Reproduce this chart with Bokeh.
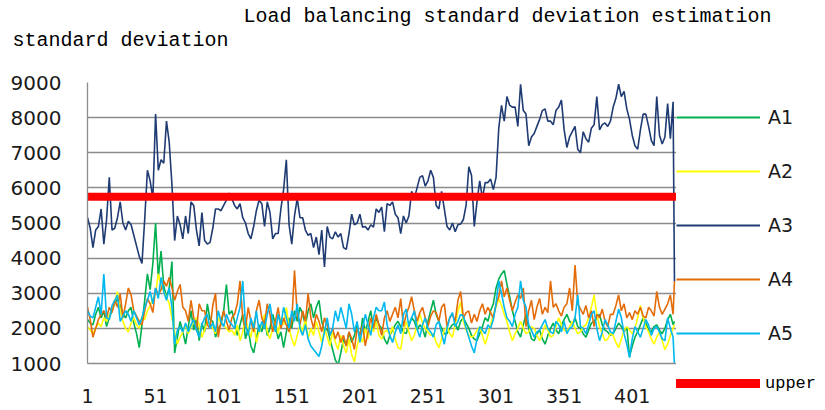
from bokeh.plotting import figure
from bokeh.models import (Label, Legend, LegendItem, FixedTicker, Range1d, Plot,
                          ColumnDataSource, Line)
from bokeh.layouts import column, row
from bokeh.embed import file_html
from bokeh.resources import INLINE

# x positions (sample index, every second point) and last point
IDX = list(range(1, 432, 2)) + [432]

A1 = [2250, 2150, 2100, 2400, 2600, 2300, 2500, 2050, 2300, 2500,
      2700, 2850, 2650, 2400, 2300, 2500, 2600, 2150, 1850, 1450,
      2100, 2800, 3550, 3100, 3850, 5000, 3450, 4200, 3200, 2900,
      3150, 3900, 1300, 1750, 2200, 1900, 1550, 2050, 2500, 1950,
      2300, 1650, 2150, 1900, 2700, 2250, 2200, 1750, 2000, 2100,
      2500, 3250, 2400, 2500, 2200, 1800, 2100, 2400, 1700, 2000,
      1500, 1300, 1700, 2100, 1900, 2300, 1800, 2000, 2400, 2100,
      1700, 1900, 1450, 1900, 2300, 2000, 2500, 2200, 2600, 2400,
      2100, 2500, 2700, 2300, 2600, 2800, 2200, 1900, 2000, 1700,
      1400, 1100, 950, 1300, 1700, 1500, 1900, 1600, 1800, 2100,
      1700, 2300, 1900, 2200, 2500, 2000, 2300, 2100, 2000, 1700,
      1550, 1800, 1950, 2100, 2200, 2050, 1900, 1850, 2100, 2300,
      2200, 1950, 2100, 2000, 1750, 2200, 2500, 2800, 2400, 2200,
      2000, 1850, 1850, 2000, 2100, 2150, 1950, 2200, 2300, 2150,
      2000, 1800, 1700, 1650, 1850, 2050, 2300, 2200, 2500, 2700,
      3150, 3400, 3550, 3650, 3250, 2900, 2500, 2200, 1900, 1750,
      2100, 2400, 2000, 1700, 1650, 1850, 1950, 1700, 1550, 1800,
      2000, 2150, 1950, 1850, 2100, 2250, 2400, 2200, 2100, 2300,
      2050, 2000, 1850, 1750, 1950, 2150, 2200, 2300, 2400, 2100,
      1950, 1900, 1800, 1850, 2000, 2150, 2050, 1900, 2050, 1200,
      1500, 1750, 1900, 2100, 2300, 2150, 1950, 1900, 2050, 2100,
      1950, 1850, 2000, 2250, 2400, 2100,
      2200]

A2 = [2050, 1950, 1850, 2000, 2150, 2050, 2300, 2200, 2400, 2500,
      2750, 3050, 2500, 2200, 2000, 1900, 2150, 2300, 2100, 2000,
      2350, 2250, 2500, 2650, 2850, 3000, 3550, 3200, 3050, 2900,
      2700, 2300, 1900, 1550, 1750, 1900, 2100, 1850, 2050, 2200,
      2300, 2100, 1750, 1950, 2200, 2100, 2000, 1850, 2300, 2150,
      2100, 2000, 1900, 1950, 1800, 2100, 1650, 1900, 2300, 2000,
      1750, 2200, 1600, 1900, 2100, 2400, 1900, 1700, 2000, 2200,
      1850, 2300, 2100, 2600, 2000, 1700, 1500, 1800, 2100, 1900,
      2300, 1700, 2000, 1800, 2200, 1900, 1600, 2000, 1750, 1500,
      1900, 1600, 1400, 1800, 1500, 1300, 1700, 1250, 1050, 1500,
      1800, 1600, 2000, 1700, 2100, 1900, 2200, 1800, 1700, 1900,
      1950, 1800, 2050, 1700, 1450, 1400, 1900, 2200, 1900, 1650,
      1800, 2100, 2400, 2150, 2000, 1900, 1800, 1850, 1600, 1450,
      1700, 1950, 2050, 1850, 1750, 2100, 2500, 2750, 2200, 1950,
      1800, 1750, 1800, 1950, 2050, 1800, 1550, 1800, 2100, 2400,
      2600, 2850, 2650, 2400, 2200, 1900, 1650, 1850, 2000, 2200,
      2000, 1850, 1900, 2050, 2000, 1800, 1650, 1850, 2100, 1950,
      1750, 1800, 2050, 2300, 2100, 1950, 1900, 2050, 2200, 2000,
      1850, 1900, 2050, 2100, 2300, 2600, 2950, 2400, 2050, 1850,
      1650, 1700, 1850, 1800, 1600, 1450, 1700, 1950, 2050, 1950,
      1850, 2000, 2300, 2650, 2300, 2050, 1900, 1700, 1550, 1750,
      1900, 1650, 1400, 1550, 1800, 2000,
      2100]

A3 = [5160, 4850, 4300, 4800, 4900, 5400, 4400, 5100, 6300, 4800,
      4850, 5150, 5600, 5000, 4800, 5050, 4950, 4650, 4350, 4050,
      3850, 5100, 6500, 6200, 5700, 8100, 6500, 6800, 6700, 7900,
      7300, 6100, 4500, 5200, 4950, 4550, 5200, 4700, 5600, 5500,
      4800, 4350, 5300, 4500, 4400, 4450, 4850, 5400, 5400, 5350,
      5500, 5650, 5850, 5700, 5500, 5400, 5550, 5150, 5000, 4700,
      4550, 4900, 5350, 5650, 5550, 4900, 5600, 5300, 4550, 4700,
      4700, 5400, 5950, 6800, 4950, 4400, 5200, 5700, 5150, 5150,
      4800, 4650, 4700, 4300, 4600, 4100, 4800, 3750, 4900, 4600,
      4550, 4750, 4600, 4700, 4300, 4250, 4700, 5250, 4950, 5000,
      5250, 4880, 4900, 4800, 4950, 4880, 5400, 5300, 5450, 4750,
      5550, 5500, 5600, 5250, 5150, 4700, 5200, 5000, 5200, 5900,
      5700, 6000, 6300, 6350, 6050, 6200, 6500, 6300, 5500, 5400,
      5900, 5400, 4900, 4800, 5000, 4750, 4950, 4970, 5100, 5500,
      6600, 6350, 4900, 5600, 6200, 5700, 6150, 6150, 6250, 5950,
      6300, 7700, 8350, 7900, 8600, 8350, 8300, 8300, 7750, 8950,
      8200, 8100, 7200, 7450, 7550, 7750, 7950, 8200, 8250, 7900,
      7900, 7800, 8200, 8300, 8500, 7650, 7150, 7450, 7600, 7750,
      7100, 7000, 7600, 7400, 7300, 7700, 7800, 8600, 7650, 7800,
      7850, 7750, 7900, 8300, 8550, 8950, 8600, 8750, 8250, 7950,
      7500, 7200, 7100, 7650, 8100, 8100, 7750, 7350, 7200, 8600,
      7500, 7250, 7450, 8400, 7400, 8450,
      3350]

A4 = [2600, 2250, 1750, 2000, 2250, 2400, 2500, 2300, 2600, 2450,
      2800, 2600, 2980, 2300, 2700, 3150, 2950, 2500, 2350, 2200,
      2100, 2500, 2850, 2700, 2450, 3150, 2950, 3100, 3350, 3200,
      3450, 3150, 2800, 3050, 3250, 2600, 2500, 2200, 2800, 2300,
      1950, 2700, 2500, 2500, 2100, 2000, 2650, 3000, 1750, 2200,
      2500, 2200, 1950, 2300, 2400, 2700, 3350, 2300, 2000, 2600,
      2200, 1900, 2500, 2800, 2300, 2100, 2700, 2400, 1900, 2200,
      2600, 2000, 2300, 2100, 1900, 2200, 3650, 2400, 2100, 2500,
      2200, 3000, 2300, 2000, 2400, 2200, 1900, 2300, 2100, 1800,
      2000, 1700, 1900, 1600, 1800, 1500, 1900, 1700, 1400, 2000,
      1800, 2100, 1500, 1900, 2300, 2000, 2400, 2100, 1800, 2300,
      2500, 2200, 2400, 2600, 2300, 2850, 2050, 2400, 2600, 2900,
      2500, 2200, 2450, 2600, 2300, 2050, 2350, 2500, 2450, 2200,
      2600, 2700, 2050, 2300, 2400, 2200, 2800, 3050, 2300, 2450,
      2500, 2150, 2400, 2200, 2500, 2700, 2400, 2600, 2450, 2300,
      2700, 2900, 3350, 2900, 3150, 2800, 2500, 2750, 2950, 2850,
      3150, 2050, 2500, 2800, 2250, 2600, 2850, 2400, 2600, 2450,
      3350, 2600, 2700, 2500, 2350, 2600, 2700, 3150, 2500, 3800,
      2700, 2550, 2400, 2650, 2300, 2500, 2050, 2400, 2300, 2550,
      2200, 2050, 2400, 2400, 2650, 2950, 2500, 2700, 2300, 2450,
      2250, 2500, 2400, 2600, 2350, 2300, 2600, 2500, 2350, 3050,
      2600, 2400, 2550, 2700, 2950, 2400,
      3350]

A5 = [2500, 2350, 2300, 2600, 2900, 2400, 3550, 2300, 2250, 2650,
      2800, 2950, 2200, 2350, 2500, 2400, 2200, 2500, 2300, 2100,
      2300, 2600, 2800, 3050, 2700, 3150, 2850, 3450, 3050, 2800,
      3150, 2600, 1550, 1950, 2050, 1900, 2150, 1900, 2100, 2250,
      1950, 1750, 2100, 2300, 2400, 2000, 2150, 1900, 2500, 2200,
      2050, 2400, 2200, 2100, 2000, 2300, 2600, 3350, 2100, 1800,
      2300, 2000, 2500, 1900, 2200, 2000, 2400, 2700, 2200, 1900,
      2400, 2100, 2600, 2300, 2000, 2500, 2200, 2700, 2000, 1800,
      2100, 1700, 1500, 1400, 1300, 1200, 1500, 1900, 2300, 1800,
      2000, 2500, 2200, 2600, 2300, 2000, 2700, 2400, 1900, 2200,
      1600, 2000, 2400, 2100, 1800, 2300, 2600, 2500, 2500, 2750,
      2100, 1800, 1600, 1900, 2100, 1850, 2400, 2550, 2050, 2300,
      2500, 2000, 1750, 2100, 2300, 2000, 1900, 1750, 2100, 2200,
      1850, 1550, 2000, 2300, 2450, 2050, 2200, 2400, 2350, 2000,
      1750, 1500, 1300, 1700, 2050, 1950, 1850, 2100, 2000, 2250,
      2700, 3350, 3000, 2600, 2300, 2200, 2050, 2400, 2600, 3350,
      2800, 2600, 2100, 1950, 1750, 1900, 1950, 2100, 2250, 2000,
      1900, 1850, 2200, 2100, 1900, 2200, 1850, 2000, 2050, 2300,
      2950, 2050, 2000, 1850, 2100, 2400, 2500, 2000, 1650, 1900,
      2250, 2100, 1900, 1850, 2200, 2550, 2300, 1850, 1550, 1170,
      1700, 2050, 1900, 1750, 2000, 2250, 2100, 1800, 2000, 2050,
      1900, 1700, 1650, 2300, 2000, 1750,
      950]

UPPER = 5750

SERIES_NAMES = ["A1", "A2", "A3", "A4", "A5"]
SERIES_COLORS = ["#00B050", "#FFFF00", "#1F3B73", "#E36C09", "#00B8F0"]
UPPER_NAME = "upper"
UPPER_COLOR = "#FF0000"
Y_TICKS = [1000, 2000, 3000, 4000, 5000, 6000, 7000, 8000, 9000]
X_TICKS = [1, 51, 101, 151, 201, 251, 301, 351, 401]

TITLE = "Load balancing standard deviation estimation"
Y_TITLE = "standard deviation"

# ---- page geometry (page has no margin) ----
PAGE_W, PAGE_H = 825, 410
HEAD_H = 60                      # header strip with the two titles
FRAME_L, FRAME_R, FRAME_T, FRAME_B = 87, 676, 82, 363
MAIN_W = FRAME_R                 # main figure ends at the frame's right edge
BODY_H = PAGE_H - HEAD_H
SIDE_W = PAGE_W - MAIN_W

# ---- header ----
head = Plot(width=PAGE_W, height=HEAD_H, x_range=Range1d(0, 1), y_range=Range1d(0, 1),
            min_border=0, outline_line_color=None, toolbar_location=None,
            output_backend="svg", background_fill_color="white", border_fill_color="white",
            frame_align=False)
head.add_layout(Label(x=243, y=HEAD_H - 16, x_units="screen", y_units="screen", text=TITLE,
                      text_font="Liberation Mono", text_font_size="20px",
                      text_baseline="middle", text_color="#000000"))
head.add_layout(Label(x=12, y=HEAD_H - 40, x_units="screen", y_units="screen", text=Y_TITLE,
                      text_font="Liberation Mono", text_font_size="20px",
                      text_baseline="middle", text_color="#000000"))

# ---- main chart ----
p = figure(width=MAIN_W, height=BODY_H, output_backend="svg", toolbar_location=None,
           x_range=Range1d(1, 433.5), y_range=Range1d(1000, 9000),
           min_border_left=FRAME_L, min_border_right=0,
           min_border_top=FRAME_T - HEAD_H, min_border_bottom=PAGE_H - FRAME_B)
p.outline_line_color = None
p.background_fill_color = "white"
p.border_fill_color = "white"

GRID = "#8C8C8C"
p.xgrid.grid_line_color = None
p.ygrid.grid_line_color = GRID
p.ygrid.grid_line_width = 1.3
p.ygrid.ticker = FixedTicker(ticks=Y_TICKS)
p.yaxis.ticker = FixedTicker(ticks=Y_TICKS)
p.xaxis.ticker = FixedTicker(ticks=X_TICKS)
for ax in (p.xaxis, p.yaxis):
    ax.axis_line_color = GRID
    ax.axis_line_width = 1.3
    ax.major_tick_line_color = None
    ax.minor_tick_line_color = None
    ax.major_label_text_font = "DejaVu Sans"
    ax.major_label_text_color = "#1a1a1a"
p.yaxis.major_label_text_font_size = "20px"
p.yaxis.major_label_standoff = 20
p.xaxis.major_label_text_font_size = "19px"
p.xaxis.major_label_standoff = 19

series = [A1, A2, A3, A4, A5]
for vals, col in zip(series, SERIES_COLORS):
    p.line(IDX, vals, line_color=col, line_width=1.6)
p.line([IDX[0], IDX[-1]], [UPPER, UPPER], line_color=UPPER_COLOR, line_width=8,
       line_cap="round")

# ---- legend strip at the right (its own frame, not aligned with the chart) ----
side = Plot(width=SIDE_W, height=BODY_H, x_range=Range1d(0, 1), y_range=Range1d(0, 1),
            min_border=0, outline_line_color=None, toolbar_location=None,
            output_backend="svg", background_fill_color="white", border_fill_color="white",
            frame_align=False)
# legend swatch carriers: one off-view point each, so only the legend shows them
items = []
for name, col in zip(SERIES_NAMES, SERIES_COLORS):
    r = side.add_glyph(ColumnDataSource(dict(x=[-5], y=[-5])),
                       Line(x="x", y="y", line_color=col, line_width=2))
    items.append(LegendItem(label=name, renderers=[r]))
r_up = side.add_glyph(ColumnDataSource(dict(x=[-5], y=[-5])),
                      Line(x="x", y="y", line_color=UPPER_COLOR, line_width=9, line_cap="round"))

ROW_H = 22
leg = Legend(items=items, location=(0, BODY_H - (333 - HEAD_H + ROW_H // 2)),
             orientation="vertical", glyph_width=84, glyph_height=ROW_H,
             label_height=ROW_H, spacing=32, label_standoff=8, padding=0, margin=0,
             border_line_alpha=0, background_fill_alpha=0,
             label_text_font="DejaVu Sans", label_text_font_size="19px",
             label_text_color="#1a1a1a")
side.add_layout(leg, "center")
leg2 = Legend(items=[LegendItem(label=UPPER_NAME, renderers=[r_up])],
              location=(0, BODY_H - (383 - HEAD_H + ROW_H // 2)), glyph_width=84,
              glyph_height=ROW_H, label_height=ROW_H, label_standoff=5, padding=0, margin=0,
              border_line_alpha=0, background_fill_alpha=0,
              label_text_font="Liberation Mono", label_text_font_size="17px",
              label_text_color="#000000")
side.add_layout(leg2, "center")

layout = column(head, row(p, side))
open("out.html", "w").write(file_html(layout, INLINE))
